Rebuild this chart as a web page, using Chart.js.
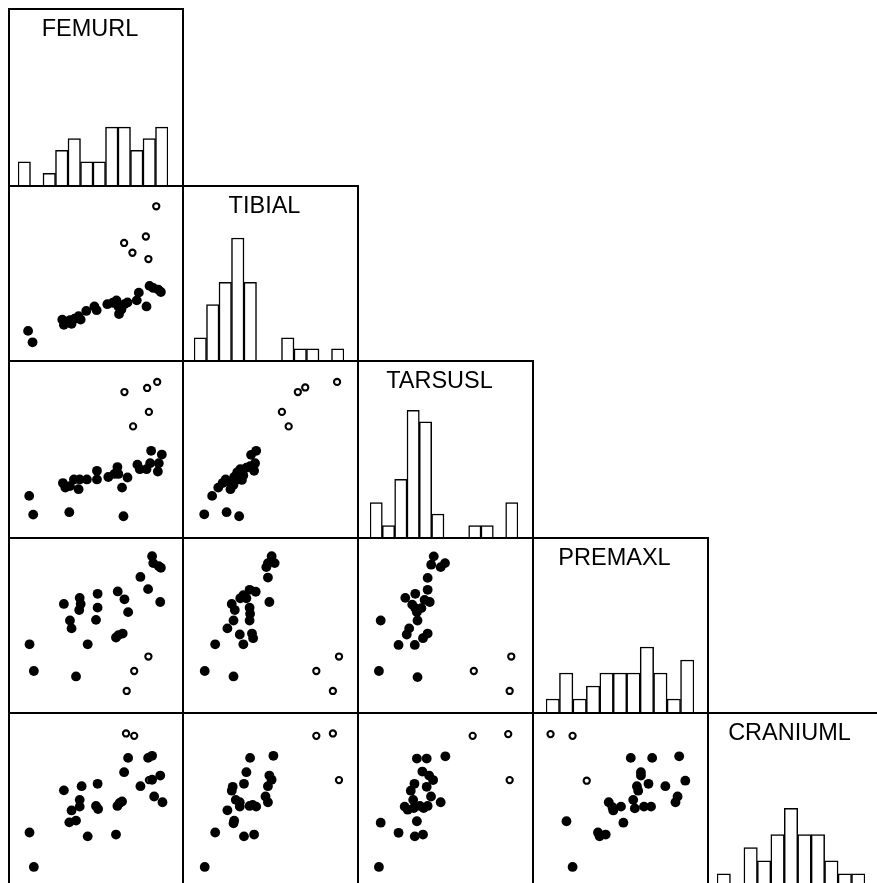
<!DOCTYPE html>
<html><head><meta charset="utf-8">
<script src="https://cdn.jsdelivr.net/npm/chart.js@4/dist/chart.umd.min.js"></script>
<style>
html,body{margin:0;padding:0;background:#fff;overflow:hidden;width:877px;height:883px;position:relative}
.panel{position:absolute;box-sizing:border-box;border:2px solid #000;background:#fff;overflow:visible}
.panel canvas{position:absolute;left:0;top:0}
.title{position:absolute;left:0;right:12px;top:7px;text-align:center;font:23.5px/23px "Liberation Sans",Arial,sans-serif;color:#000;white-space:nowrap}
</style></head><body>
<script>
// Variables (diagonal panels), each on an arbitrary 0-100 scale
const variables = ['FEMURL', 'TIBIAL', 'TARSUSL', 'PREMAXL', 'CRANIUML'];

// Histogram bins and counts
const femurlBins   = ['1','2','3','4','5','6','7','8','9','10','11','12'];
const femurlCounts = [2,0,1,3,4,2,2,5,5,3,4,5];
const tibialBins   = ['1','2','3','4','5','6','7','8','9','10','11','12'];
const tibialCounts = [2,5,7,11,7,0,0,2,1,1,0,1];
const tarsuslBins   = ['1','2','3','4','5','6','7','8','9','10','11','12'];
const tarsuslCounts = [3,1,5,11,10,2,0,0,1,1,0,3];
const premaxlBins   = ['1','2','3','4','5','6','7','8','9','10','11'];
const premaxlCounts = [1,3,1,2,3,3,3,5,3,1,4];
const craniumlBins   = ['1','2','3','4','5','6','7','8','9','10','11'];
const craniumlCounts = [1,0,3,2,4,6,4,4,2,1,1];

// Scatter panels: [x, y]  (x = column variable, y = row variable)
const femurlTibialFilled = [[7.5,14.3],[10.3,7.2],[28.9,21.3],[29.9,18.1],[31.8,20.0],[33.7,21.0],[34.7,18.7],[36.6,21.9],[39.1,23.4],[40.4,21.3],[43.9,26.7],[49.0,29.5],[50.4,27.2],[57.1,30.9],[60.5,31.8],[62.8,33.3],[64.0,29.5],[65.9,27.6],[67.8,30.9],[69.7,32.0],[64.4,24.8],[75.5,33.3],[76.8,38.1],[81.6,29.5],[83.5,42.3],[85.8,41.0],[88.9,40.0],[90.6,38.5]];
const femurlTibialOpen = [[87.7,91.8],[81.2,73.0],[67.6,69.0],[72.8,62.9],[82.8,59.0]];

const femurlTarsuslFilled = [[8.2,21.5],[10.7,10.0],[33.3,11.5],[67.2,9.0],[29.3,29.4],[30.8,26.6],[33.7,27.5],[36.2,31.6],[39.1,25.6],[39.8,31.6],[44.3,31.6],[50.6,36.9],[50.6,31.6],[57.7,33.1],[61.5,35.0],[63.4,39.2],[64.0,35.0],[66.3,26.6],[69.7,32.8],[75.9,40.7],[77.4,37.9],[81.6,37.9],[84.5,49.2],[83.9,41.6],[89.3,41.6],[88.7,36.5],[91.2,46.9]];
const femurlTarsuslOpen = [[67.8,85.3],[82.0,87.8],[88.3,91.5],[83.1,73.1],[73.2,64.2]];

const tibialTarsuslFilled = [[8.8,10.2],[22.7,11.5],[30.5,9.0],[13.7,21.5],[17.5,26.6],[20.2,29.4],[22.1,31.6],[25.1,25.6],[24.0,30.3],[27.4,33.1],[29.3,36.0],[28.4,31.3],[31.2,37.9],[33.1,34.1],[35.0,38.8],[32.2,31.3],[37.3,39.7],[40.4,41.6],[39.8,36.9],[37.9,46.7],[41.1,49.2],[30.3,35.0],[27.0,28.4]];
const tibialTarsuslOpen = [[91.4,91.5],[67.0,85.3],[71.6,88.1],[57.1,73.1],[61.3,64.2]];

const femurlPremaxlFilled = [[85.1,93.1],[85.8,88.8],[89.3,86.9],[90.6,85.9],[77.8,80.2],[82.6,72.6],[90.2,64.6],[63.6,71.2],[67.8,66.3],[70.1,58.3],[51.0,69.7],[51.0,61.1],[50.0,53.5],[39.8,67.2],[40.4,63.4],[39.5,59.6],[29.9,63.4],[33.7,53.1],[34.7,48.2],[44.8,38.3],[62.5,42.5],[64.0,44.0],[66.7,45.0],[8.4,38.3],[11.1,21.7],[37.5,18.3]];
const femurlPremaxlOpen = [[82.8,30.7],[73.9,21.7],[69.2,9.3]];

const tibialPremaxlFilled = [[50.7,93.1],[48.4,88.8],[52.6,88.8],[47.4,86.3],[48.4,79.8],[49.3,64.6],[37.0,72.2],[40.8,71.0],[33.1,68.8],[31.2,66.9],[35.0,66.9],[25.9,63.4],[27.8,59.6],[37.0,61.1],[37.3,57.3],[37.0,53.1],[27.0,53.1],[23.2,48.2],[30.9,44.4],[38.5,45.0],[39.2,42.1],[33.1,38.3],[15.6,38.3],[9.1,21.7],[27.0,18.3]];
const tibialPremaxlOpen = [[92.6,30.7],[78.5,21.7],[88.8,9.3]];

const tarsuslPremaxlFilled = [[42.7,93.0],[41.1,87.8],[47.0,86.3],[49.7,88.8],[38.9,79.6],[38.9,72.2],[31.2,69.7],[25.0,67.2],[40.2,64.6],[37.0,65.9],[29.3,63.0],[31.2,60.8],[35.0,60.8],[32.2,58.3],[32.6,53.1],[9.7,53.1],[27.4,48.2],[25.9,44.4],[38.9,45.0],[36.0,42.1],[20.8,37.9],[30.9,37.9],[8.6,21.7],[32.6,17.9]];
const tarsuslPremaxlOpen = [[90.9,30.7],[67.6,21.7],[89.9,9.3]];

const femurlCraniumlFilled = [[70.1,76.5],[82.6,76.5],[85.1,77.8],[67.6,67.6],[90.2,65.5],[77.8,58.9],[85.1,62.9],[86.4,52.5],[91.6,48.9],[29.9,56.3],[41.0,58.9],[51.0,60.4],[39.8,50.4],[39.8,46.2],[34.7,43.8],[50.0,46.6],[51.3,44.7],[63.4,46.6],[64.8,48.5],[66.3,49.4],[33.3,36.4],[37.5,37.5],[44.8,27.7],[62.5,28.8],[8.4,30.1],[11.1,8.7]];
const femurlCraniumlOpen = [[68.8,91.7],[73.9,90.2],[83.1,62.7]];

const tibialCraniumlFilled = [[37.3,76.5],[51.8,77.8],[35.0,67.6],[33.5,60.4],[49.3,65.5],[50.7,62.9],[48.4,58.9],[26.5,58.5],[25.9,56.1],[46.9,52.5],[48.4,48.9],[28.4,50.4],[30.9,48.9],[30.9,46.2],[23.2,43.9],[37.0,46.6],[38.9,47.3],[41.1,46.2],[27.4,37.5],[27.0,35.8],[15.6,30.1],[33.5,27.7],[39.8,28.8],[9.1,8.7]];
const tibialCraniumlOpen = [[78.5,90.2],[88.8,91.7],[92.6,62.7]];

const tarsuslCraniumlFilled = [[32.2,76.1],[38.3,76.1],[49.9,77.5],[35.6,68.0],[39.8,65.5],[42.3,62.7],[30.7,60.4],[28.4,56.1],[38.3,58.5],[41.0,52.5],[47.0,48.9],[24.6,46.2],[26.5,44.3],[29.9,50.4],[30.3,45.3],[34.1,46.6],[36.4,45.3],[38.9,46.6],[32.2,37.1],[9.7,36.2],[20.8,29.9],[30.9,27.7],[36.0,28.8],[8.6,8.7]];
const tarsuslCraniumlOpen = [[66.9,90.2],[89.0,91.3],[89.9,62.7]];

const premaxlCraniumlFilled = [[56.4,76.5],[69.7,76.5],[86.5,77.5],[62.7,67.6],[62.7,65.5],[90.3,62.3],[67.4,60.4],[60.2,58.9],[61.0,56.1],[77.9,58.9],[85.5,52.5],[84.2,48.9],[42.7,48.9],[45.0,45.8],[45.5,43.8],[50.3,46.2],[57.9,50.4],[58.9,45.1],[64.6,46.2],[69.0,46.2],[51.8,36.2],[16.4,37.1],[36.0,30.1],[37.0,27.7],[40.8,28.8],[20.2,8.7]];
const premaxlCraniumlOpen = [[6.5,91.3],[20.2,90.2],[29.0,62.3]];

// ---- layout (styling only) ----
const colX = [8, 182, 357, 532, 707];
const colW = [176, 177, 177, 177, 177];
const rowY = [8, 185, 360, 537, 712];
const rowH = [179, 177, 179, 177, 177];

const histograms = [
  {bins: femurlBins, counts: femurlCounts, ymax: 15.1, pad: {left: 8, right: 14}},
  {bins: tibialBins, counts: tibialCounts, ymax: 15.6, pad: {left: 10, right: 13}},
  {bins: tarsuslBins, counts: tarsuslCounts, ymax: 15.2, pad: {left: 11, right: 14}},
  {bins: premaxlBins, counts: premaxlCounts, ymax: 13.3, pad: {left: 12, right: 13}},
  {bins: craniumlBins, counts: craniumlCounts, ymax: 13.2, pad: {left: 8, right: 17}}
];

const scatters = {
  '1,0': [femurlTibialFilled, femurlTibialOpen],
  '2,0': [femurlTarsuslFilled, femurlTarsuslOpen],
  '2,1': [tibialTarsuslFilled, tibialTarsuslOpen],
  '3,0': [femurlPremaxlFilled, femurlPremaxlOpen],
  '3,1': [tibialPremaxlFilled, tibialPremaxlOpen],
  '3,2': [tarsuslPremaxlFilled, tarsuslPremaxlOpen],
  '4,0': [femurlCraniumlFilled, femurlCraniumlOpen],
  '4,1': [tibialCraniumlFilled, tibialCraniumlOpen],
  '4,2': [tarsuslCraniumlFilled, tarsuslCraniumlOpen],
  '4,3': [premaxlCraniumlFilled, premaxlCraniumlOpen]
};

const common = {
  responsive: false,
  animation: false,
  events: [],
  plugins: {legend: {display: false}, tooltip: {enabled: false}, title: {display: false}}
};

function makePanel(r, c) {
  const div = document.createElement('div');
  div.className = 'panel';
  div.style.left = colX[c] + 'px';
  div.style.top = rowY[r] + 'px';
  div.style.width = colW[c] + 'px';
  div.style.height = rowH[r] + 'px';
  document.body.appendChild(div);
  const cv = document.createElement('canvas');
  cv.width = colW[c] - 4;
  cv.height = rowH[r] - 4;
  cv.style.width = cv.width + 'px';
  cv.style.height = cv.height + 'px';
  div.appendChild(cv);
  return {div, cv};
}

for (let r = 0; r < 5; r++) {
  for (let c = 0; c <= r; c++) {
    const {div, cv} = makePanel(r, c);
    if (r === c) {
      const h = histograms[r];
      new Chart(cv, {
        type: 'bar',
        data: {
          labels: h.bins,
          datasets: [{
            data: h.counts,
            backgroundColor: '#fff',
            borderColor: '#000',
            borderWidth: 1.5,
            borderSkipped: 'start',
            barPercentage: 1,
            categoryPercentage: 1
          }]
        },
        options: Object.assign({}, common, {
          layout: {padding: {left: h.pad.left, right: h.pad.right, top: 0, bottom: 0}},
          scales: {
            x: {display: false, offset: true},
            y: {display: false, min: 0, max: h.ymax}
          }
        })
      });
      const t = document.createElement('div');
      t.className = 'title';
      t.textContent = variables[r];
      div.appendChild(t);
    } else {
      const [filled, open] = scatters[r + ',' + c];
      new Chart(cv, {
        type: 'scatter',
        data: {
          datasets: [
            {data: filled.map(([x, y]) => ({x, y})), pointRadius: 4.9, pointBackgroundColor: '#000', pointBorderWidth: 0, clip: false},
            {data: open.map(([x, y]) => ({x, y})), pointRadius: 3.1, pointBackgroundColor: 'rgba(255,255,255,0)', pointBorderColor: '#000', pointBorderWidth: 2.1, clip: false}
          ]
        },
        options: Object.assign({}, common, {
          layout: {padding: 0},
          scales: {
            x: {type: 'linear', display: false, min: 0, max: 100},
            y: {type: 'linear', display: false, min: 0, max: 100}
          }
        })
      });
    }
  }
}
</script>
</body></html>
